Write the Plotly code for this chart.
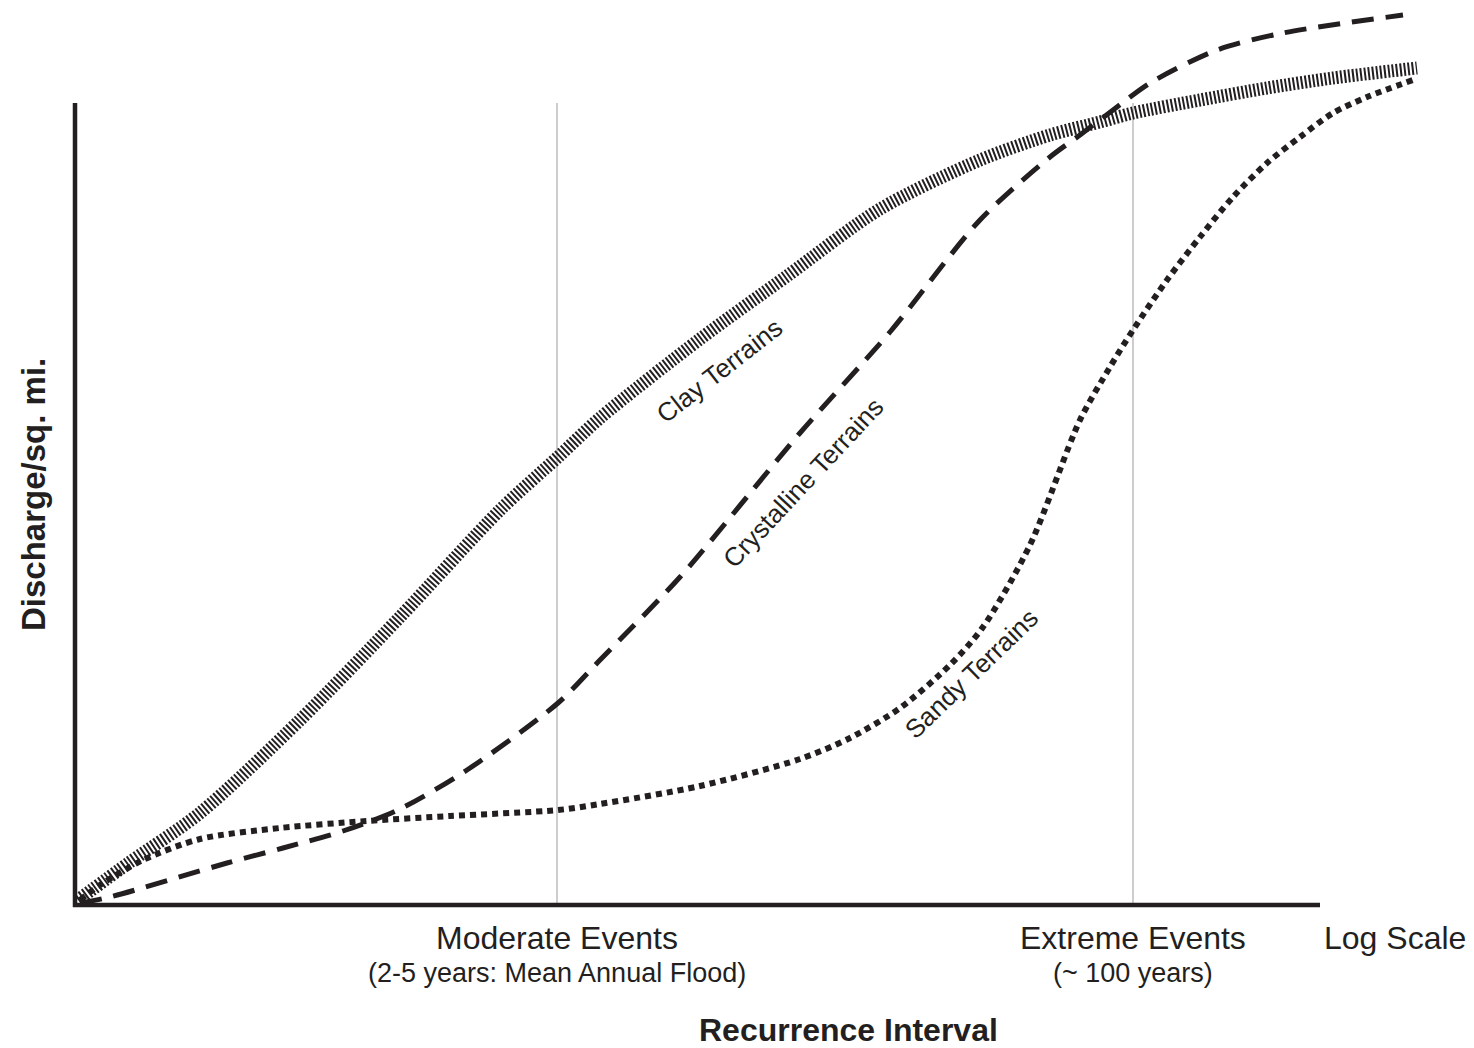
import plotly.graph_objects as go

# ---- data (arbitrary units: x = recurrence interval on log scale, y = discharge/sq. mi.) ----
clay_x = [0.3, 5.5, 12.5, 22.5, 32.5, 42.5, 48.3, 52.5, 62.5, 71.2, 80.5, 90.5, 97.5, 102.5, 105.8, 112.5, 119.2, 125.8, 134.2]
clay_y = [0.5, 4.3, 9.2, 18.5, 28.8, 39.5, 44.8, 48.7, 56.6, 62.9, 69.6, 74.5, 77.0, 78.3, 79.2, 80.5, 81.7, 82.7, 83.7]

cryst_x = [0.5, 3.5, 15.2, 20.8, 26.8, 32.5, 39.2, 48.3, 52.5, 60.5, 72.5, 81.5, 90.5, 97.5, 100.5, 104.2, 107.5, 114.2, 120.8, 132.8]
cryst_y = [0.2, 0.8, 4.2, 5.7, 7.4, 9.6, 13.5, 20.2, 24.5, 32.8, 47.2, 57.3, 68.5, 74.8, 77.0, 79.8, 82.2, 85.5, 87.2, 89.0]

sandy_x = [0.5, 2.5, 6.8, 12.5, 20.5, 29.2, 37.5, 48.3, 52.5, 62.5, 72.5, 77.5, 82.5, 87.5, 90.8, 95.5, 100.5, 103.5, 105.8, 109.2, 112.5, 115.8, 119.2, 122.5, 125.8, 129.2, 133.8]
sandy_y = [0.5, 2.0, 4.5, 6.6, 7.7, 8.4, 8.9, 9.5, 10.1, 11.9, 14.6, 16.7, 19.7, 24.0, 27.8, 36.0, 48.5, 53.8, 57.5, 62.5, 66.8, 70.8, 74.2, 76.8, 79.2, 80.8, 82.5]

# axis extents and reference events
x_axis_end = 124.5
y_axis_top = 80.2
event_x = [48.2, 105.8]
event_titles = ["Moderate Events", "Extreme Events"]
event_subtitles = ["(2-5 years: Mean Annual Flood)", "(~ 100 years)"]

curve_labels = ["Clay Terrains", "Crystalline Terrains", "Sandy Terrains"]
label_x = [64.4, 72.8, 89.6]
label_y = [53.4, 42.2, 23.1]
label_angle = [-38, -47, -44]

INK = "#231f20"
FONT = "Liberation Sans, Arial, Helvetica, sans-serif"

fig = go.Figure()

# vertical reference lines
for ex in event_x:
    fig.add_shape(type="line", x0=ex, x1=ex, y0=0, y1=y_axis_top, xref="x", yref="y",
                  line=dict(color="#b3b3b3", width=1.3), layer="below")

# axes
fig.add_shape(type="line", x0=0, x1=0, y0=-0.2, y1=y_axis_top, xref="x", yref="y",
              line=dict(color=INK, width=4.5))
fig.add_shape(type="line", x0=-0.2, x1=x_axis_end, y0=0, y1=0, xref="x", yref="y",
              line=dict(color=INK, width=4.5))

fig.add_trace(go.Scatter(x=clay_x, y=clay_y, mode="lines", line_shape="spline",
                         line=dict(color=INK, width=13, dash="2px,2px", smoothing=0.8),
                         hoverinfo="skip", showlegend=False))
fig.add_trace(go.Scatter(x=cryst_x, y=cryst_y, mode="lines", line_shape="spline",
                         line=dict(color=INK, width=5, dash="22px,12px", smoothing=0.8),
                         hoverinfo="skip", showlegend=False))
fig.add_trace(go.Scatter(x=sandy_x, y=sandy_y, mode="lines", line_shape="spline",
                         line=dict(color=INK, width=6, dash="6px,5px", smoothing=0.8),
                         hoverinfo="skip", showlegend=False))

# curve labels
for t, lx, ly, a in zip(curve_labels, label_x, label_y, label_angle):
    fig.add_annotation(x=lx, y=ly, xref="x", yref="y", text=t, textangle=a, showarrow=False,
                       xanchor="center", yanchor="middle", font=dict(family=FONT, size=26, color=INK))

# event labels
for ex, t, s in zip(event_x, event_titles, event_subtitles):
    fig.add_annotation(x=ex, y=-3.3, xref="x", yref="y", text=t, showarrow=False,
                       xanchor="center", yanchor="middle", font=dict(family=FONT, size=32, color=INK))
    fig.add_annotation(x=ex, y=-6.8, xref="x", yref="y", text=s, showarrow=False,
                       xanchor="center", yanchor="middle", font=dict(family=FONT, size=27, color=INK))

fig.add_annotation(x=132.0, y=-3.3, xref="x", yref="y", text="Log Scale", showarrow=False,
                   xanchor="center", yanchor="middle", font=dict(family=FONT, size=32, color=INK))
fig.add_annotation(x=77.3, y=-12.45, xref="x", yref="y", text="<b>Recurrence Interval</b>", showarrow=False,
                   xanchor="center", yanchor="middle", font=dict(family=FONT, size=32, color=INK))
fig.add_annotation(x=-4.2, y=41.0, xref="x", yref="y", text="<b>Discharge/sq. mi.</b>", showarrow=False,
                   textangle=-90, xanchor="center", yanchor="middle", font=dict(family=FONT, size=33, color=INK))

fig.update_layout(
    width=1474, height=1048,
    margin=dict(l=0, r=0, t=0, b=0),
    paper_bgcolor="white", plot_bgcolor="white",
    xaxis=dict(range=[-7.5, 139.9], visible=False, fixedrange=True),
    yaxis=dict(range=[-14.3, 90.5], visible=False, fixedrange=True),
    showlegend=False,
)

fig.write_html("out.html", config={"displayModeBar": False},
               post_script="document.body.style.margin='0';document.body.style.overflow='hidden';")
